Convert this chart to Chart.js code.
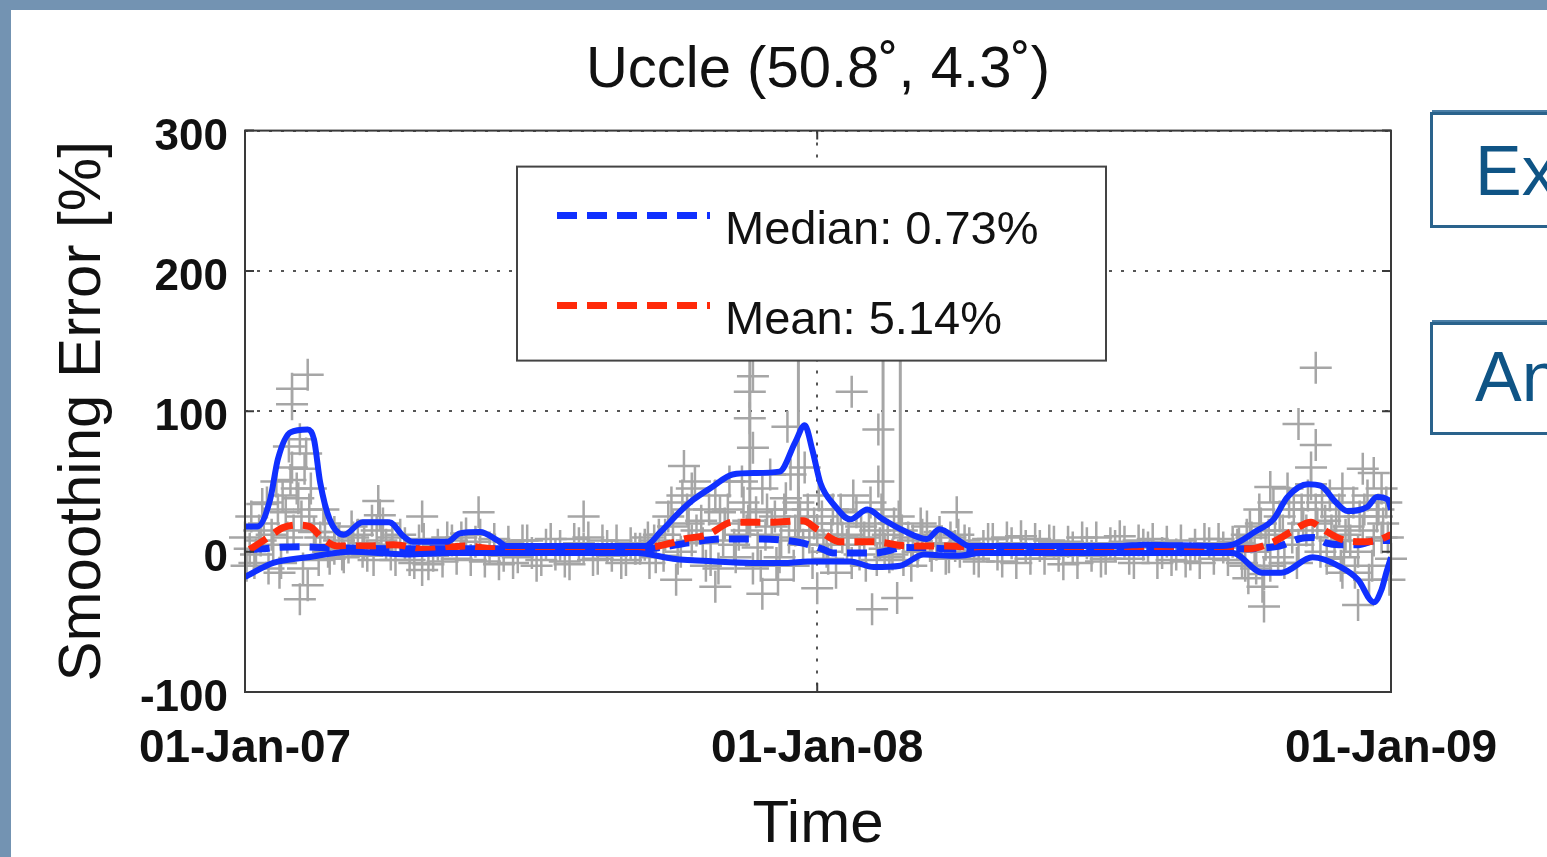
<!DOCTYPE html>
<html>
<head>
<meta charset="utf-8">
<script src="https://cdn.jsdelivr.net/npm/chart.js@4.4.0/dist/chart.umd.min.js"></script>
<style>
  html, body { margin: 0; padding: 0; }
  body { width: 1547px; height: 857px; background: #7393b2; overflow: hidden; position: relative; font-family: 'Liberation Sans', Arial, sans-serif; }
  .panel { position: absolute; left: 11px; top: 10px; right: 0; bottom: 0; background: #fff; }
  .chart-wrap { position: absolute; left: 11px; top: 10px; width: 1536px; height: 847px; }
  .tag { position: absolute; left: 1430px; width: 160px; border: 3px solid #2a638c; border-right: none; color: #0f5485; font-size: 70px; line-height: 1; padding-left: 42px; box-sizing: border-box; box-shadow: 0 -4px 0 -2px #4a7ea6; }
  #tag1 { top: 112px; height: 116px; padding-top: 21px; }
  #tag2 { top: 322px; height: 113px; padding-top: 17px; }
</style>
</head>
<body>
<div class="panel"></div>
<div class="chart-wrap"><canvas id="diagram" width="1536" height="847"></canvas></div>
<div class="tag" id="tag1">Ex</div>
<div class="tag" id="tag2">An</div>
<script>
// days since 01-Jan-2007
const tickDays = [0, 365, 731];
const tickLabels = ['01-Jan-07', '01-Jan-08', '01-Jan-09'];
const legendLabels = ['Median: 0.73%', 'Mean: 5.14%'];

// upper / lower envelope (solid blue)
const upperEnv = [[0,18],[8,18],[16,37],[21,66],[29,85],[40,87],[44,80],[48,49],[54,23],[63,12],[75,21],[92,21],[101,11],[107,7],[129,7],[137,13],[150,14],[161,8],[167,4],[255,4],[265,14],[277,28],[286,37],[298,46],[311,55],[325,56],[341,57],[351,78],[357,90],[362,72],[367,49],[376,33],[386,23],[397,30],[407,23],[420,15],[435,9],[443,16],[454,9],[462,4],[558,4],[574,5],[620,4],[630,5],[644,14],[656,23],[665,39],[678,48],[686,47],[696,35],[703,29],[716,32],[722,39],[729,37],[731,30]];
const lowerEnv = [[0,-18],[18,-8],[40,-4],[67,0],[103,-2],[130,-1],[250,-1],[273,-5],[300,-7],[324,-8],[345,-8],[359,-7],[375,-7],[386,-7],[401,-11],[418,-10],[433,-2],[454,-3],[470,-1],[630,-1],[649,-15],[661,-15],[681,-4],[699,-11],[710,-20],[720,-36],[725,-27],[728,-15],[731,-4]];

// running median / mean
const medianLine = [[3,1.5],[11,2],[20,3],[35,3.5],[50,3],[70,2.5],[100,2],[160,2],[250,1.5],[265,3],[284,6.5],[305,9],[330,9],[354,6.5],[368,2],[375,-1],[401,-1],[422,3],[465,1.5],[550,2],[630,2],[660,4],[672,9],[682,10],[690,6],[698,5],[710,5],[722,8],[731,8]];
const meanLine = [[3,1.5],[16,11],[24,17],[33,19],[41,18],[50,9],[59,4],[80,4],[95,5],[115,1.5],[140,4],[160,2],[200,2],[256,3],[273,6.5],[280,9],[295,12],[311,21],[335,21],[356,22],[365,16],[380,7],[401,7],[424,4],[448,4],[469,3],[550,3],[628,2.5],[640,2],[655,6.5],[667,14],[680,21],[686,17],[699,9],[712,7],[722,8],[731,12]];

// individual smoothing errors (grey crosses)
const samplesA = [[0,10],[6,-8],[12,20],[18,5],[24,40],[30,60],[36,25],[42,45],[48,10],[54,-5],[60,8],[66,3],[72,12],[78,-3],[84,15],[90,5],[96,-6],[102,6],[108,-8],[114,9],[120,-3],[126,-7],[132,8],[138,10],[144,-6],[150,12],[156,3],[162,-9],[168,7],[174,-4],[180,8],[186,-10],[192,5],[198,-2],[204,-7],[210,9],[216,2],[222,-6],[228,8],[234,-3],[240,-8],[246,6],[252,2],[258,-8],[264,12],[270,25],[276,-5],[282,30],[288,15],[294,-10],[300,40],[306,20],[312,5],[318,35],[324,-12],[330,45],[336,18],[342,8],[348,55],[354,25],[360,10],[366,40],[372,-5],[378,20],[384,5],[390,28],[396,-10],[402,15],[408,2],[414,20],[420,-6],[426,8],[432,12],[438,-3],[444,6],[450,10],[456,0],[462,6],[468,-7],[474,9],[480,-2],[486,10],[492,-8],[498,4],[504,9],[510,-5],[516,7],[522,-9],[528,3],[534,10],[540,-3],[546,-7],[552,6],[558,11],[564,-5],[570,8],[576,3],[582,-8],[588,7],[594,-2],[600,-7],[606,5],[612,9],[618,-5],[624,3],[630,7],[636,-8],[642,10],[648,20],[654,-10],[660,25],[666,35],[672,5],[678,40],[684,20],[690,-5],[696,25],[702,12],[708,-15],[714,30],[720,8],[726,20],[731,-5]];
const samplesB = [[3,2],[9,15],[15,-12],[21,30],[27,10],[33,45],[39,70],[45,5],[51,20],[57,2],[63,-4],[69,10],[75,0],[81,22],[87,8],[93,-2],[99,12],[105,-6],[111,8],[117,-9],[123,5],[129,10],[135,-5],[141,13],[147,7],[153,-7],[159,9],[165,-3],[171,-8],[177,8],[183,-1],[189,-6],[195,9],[201,4],[207,-9],[213,6],[219,10],[225,-5],[231,4],[237,8],[243,-6],[249,2],[255,5],[261,8],[267,-3],[273,18],[279,40],[285,8],[291,22],[297,-6],[303,28],[309,50],[315,12],[321,22],[327,3],[333,30],[339,-8],[345,38],[351,15],[357,60],[363,20],[369,5],[375,30],[381,10],[387,-8],[393,18],[399,35],[405,6],[411,-4],[417,25],[423,10],[429,0],[435,18],[441,5],[447,-5],[453,4],[459,8],[465,-5],[471,4],[477,9],[483,-7],[489,6],[495,11],[501,-5],[507,4],[513,8],[519,-3],[525,7],[531,-8],[537,6],[543,10],[549,-5],[555,4],[561,7],[567,-8],[573,5],[579,9],[585,-1],[591,-6],[597,8],[603,-2],[609,-8],[615,6],[621,9],[627,-6],[633,5],[639,12],[645,-12],[651,5],[657,15],[663,-8],[669,30],[675,20],[681,10],[687,35],[693,15],[699,-10],[705,8],[711,25],[717,-20],[723,30],[729,10]];
const samplesC = [[1,-10],[4,25],[7,-2],[10,8],[14,35],[17,12],[20,50],[23,-8],[26,28],[28,75],[31,15],[34,38],[37,-12],[41,30],[44,14],[47,-6],[50,30],[53,0],[57,14],[62,-2],[68,18],[76,6],[82,-6],[88,20],[94,10],[257,10],[262,-4],[268,12],[272,35],[278,0],[283,20],[287,50],[292,6],[296,30],[302,-12],[305,8],[308,30],[313,-4],[317,50],[320,15],[326,28],[329,-10],[332,12],[335,55],[338,25],[341,-4],[344,30],[347,10],[350,-10],[353,35],[356,5],[359,30],[362,-8],[365,15],[368,25],[371,0],[374,12],[377,-15],[380,30],[385,12],[388,40],[392,-2],[395,10],[398,20],[403,-6],[406,30],[410,12],[413,-2],[419,15],[425,-10],[431,20],[437,4],[443,14],[449,-4],[455,12],[634,6],[638,-10],[641,18],[644,0],[647,30],[650,-16],[653,12],[656,35],[659,-4],[662,15],[665,45],[668,10],[671,-8],[674,30],[677,15],[680,48],[683,30],[686,0],[689,22],[692,40],[695,8],[698,30],[701,-4],[704,18],[707,35],[710,0],[713,15],[716,40],[719,-10],[722,25],[725,10],[728,35],[730,-20]];
const outliers = [[11,34],[30,116],[40,126],[30,105],[35,80],[38,59],[29,51],[40,-24],[35,-34],[22,-15],[85,36],[86,26],[113,25],[113,-13],[149,28],[216,25],[280,61],[285,45],[275,-20],[300,-25],[322,114],[324,125],[324,74],[322,95],[346,89],[330,-30],[340,-20],[365,-26],[387,114],[404,87],[404,50],[400,-41],[416,-33],[454,28],[640,-19],[649,-25],[650,-39],[654,46],[672,91],[683,131],[683,76],[680,60],[700,45],[710,-38],[713,59],[720,56],[725,45],[700,-15]];
// tall vertical streaks: [day, top, bottom]
const streaks = [[322,140,10],[353,150,5],[407,150,0],[418,150,5]];

const pts = arr => arr.map(p => ({x: p[0], y: p[1]}));
const streakPts = streaks.flatMap(s => [{x: s[0], y: s[1]}, {x: s[0], y: s[2]}, {x: s[0], y: null}]);

const FONT = "'Liberation Sans', Arial, Helvetica, sans-serif";
Chart.defaults.font.family = FONT;
Chart.defaults.color = '#111';

const BLUE = '#1030ff';
const RED = '#ff2a0a';
const GREY = '#a6a6a6';

const frame = {
  id: 'frame',
  afterDatasetsDraw(chart){
    const {ctx, chartArea: a, scales} = chart;
    ctx.save();
    ctx.strokeStyle = '#3a3a3a';
    ctx.lineWidth = 2;
    ctx.strokeRect(a.left, a.top, a.right - a.left, a.bottom - a.top);
    ctx.beginPath();
    [-100, 0, 100, 200, 300].forEach(v=>{
      const y = scales.y.getPixelForValue(v);
      ctx.moveTo(a.left, y); ctx.lineTo(a.left + 9, y);
      ctx.moveTo(a.right, y); ctx.lineTo(a.right - 9, y);
    });
    tickDays.forEach(v=>{
      const x = scales.x.getPixelForValue(v);
      ctx.moveTo(x, a.top); ctx.lineTo(x, a.top + 9);
      ctx.moveTo(x, a.bottom); ctx.lineTo(x, a.bottom - 9);
    });
    ctx.stroke();
    ctx.restore();
  },
  afterDraw(chart){
    // legend box inside the axes, like matlab's
    const {ctx, chartArea: a} = chart;
    const x = a.left + 272, y = a.top + 36, w = 589, h = 194;
    ctx.save();
    ctx.fillStyle = '#fff';
    ctx.fillRect(x, y, w, h);
    ctx.strokeStyle = '#444';
    ctx.lineWidth = 2;
    ctx.strokeRect(x, y, w, h);
    legendLabels.forEach((lbl, i)=>{
      const ds = chart.data.datasets.find(d => d.label === lbl);
      const ly = y + 49 + i * 90;
      ctx.strokeStyle = ds.borderColor;
      ctx.lineWidth = 7;
      ctx.setLineDash([20, 10]);
      ctx.beginPath();
      ctx.moveTo(x + 40, ly); ctx.lineTo(x + 193, ly);
      ctx.stroke();
      ctx.setLineDash([]);
      ctx.fillStyle = '#111';
      ctx.font = '47px ' + FONT;
      ctx.textBaseline = 'middle';
      ctx.fillText(lbl, x + 208, ly + 15);
    });
    ctx.restore();
  }
};

const gridColor = c => (c.tick && c.tick.value === 0) ? 'rgba(0,0,0,0)' : '#555';

const ctx = document.getElementById('diagram');
new Chart(ctx, {
  type: 'line',
  data: {
    datasets: [
      { label: 'upper', data: pts(upperEnv), borderColor: BLUE, borderWidth: 6, pointRadius: 0, cubicInterpolationMode: 'monotone', order: 0 },
      { label: 'lower', data: pts(lowerEnv), borderColor: BLUE, borderWidth: 6, pointRadius: 0, cubicInterpolationMode: 'monotone', order: 0 },
      { label: legendLabels[1], data: pts(meanLine), borderColor: RED, borderWidth: 7, borderDash: [20, 10], pointRadius: 0, cubicInterpolationMode: 'monotone', order: 1 },
      { label: legendLabels[0], data: pts(medianLine), borderColor: BLUE, borderWidth: 7, borderDash: [20, 10], pointRadius: 0, cubicInterpolationMode: 'monotone', order: 2 },
      { label: 'streaks', data: streakPts, borderColor: GREY, borderWidth: 3, pointRadius: 0, spanGaps: false, order: 3 },
      { label: 'samples', data: pts(samplesA.concat(samplesB, samplesC, outliers)), showLine: false, pointStyle: 'cross', pointRadius: 16, pointBorderWidth: 2.5, pointBorderColor: GREY, borderColor: GREY, clip: false, order: 4 }
    ]
  },
  options: {
    animation: false,
    responsive: false,
    layout: { padding: { top: 0, left: 0, right: 156, bottom: 0 } },
    scales: {
      x: {
        type: 'linear',
        min: 0,
        max: 731,
        afterBuildTicks: s => { s.ticks = tickDays.map(v => ({value: v})); },
        afterFit: s => { s.height = 165; },
        ticks: {
          autoSkip: false,
          maxRotation: 0,
          padding: 30,
          color: '#111',
          font: { size: 46, weight: 'bold' },
          callback: v => tickLabels[tickDays.indexOf(v)]
        },
        grid: { color: '#555', lineWidth: 2, drawTicks: false },
        border: { display: false, dash: [3, 9] },
        title: { display: true, text: 'Time', color: '#111', font: { size: 60, lineHeight: 1 }, padding: { top: 0, bottom: 2 } }
      },
      y: {
        min: -100,
        max: 300,
        afterFit: s => { s.width = 234; },
        ticks: { stepSize: 100, padding: 17, labelOffset: 7, color: '#111', font: { size: 44, weight: 'bold' } },
        grid: { color: gridColor, lineWidth: 2, drawTicks: false },
        border: { display: false, dash: [3, 9] },
        title: { display: true, text: 'Smoothing Error [%]', color: '#111', font: { size: 60, lineHeight: 1 }, padding: { top: 42, bottom: 0 } }
      }
    },
    plugins: {
      legend: { display: false },
      tooltip: { enabled: false },
      title: {
        display: true,
        fullSize: false,
        text: 'Uccle (50.8˚, 4.3˚)',
        color: '#111',
        font: { size: 58, weight: 'normal' },
        padding: { top: 26, bottom: 25 }
      }
    }
  },
  plugins: [frame]
});
</script>
</body>
</html>
